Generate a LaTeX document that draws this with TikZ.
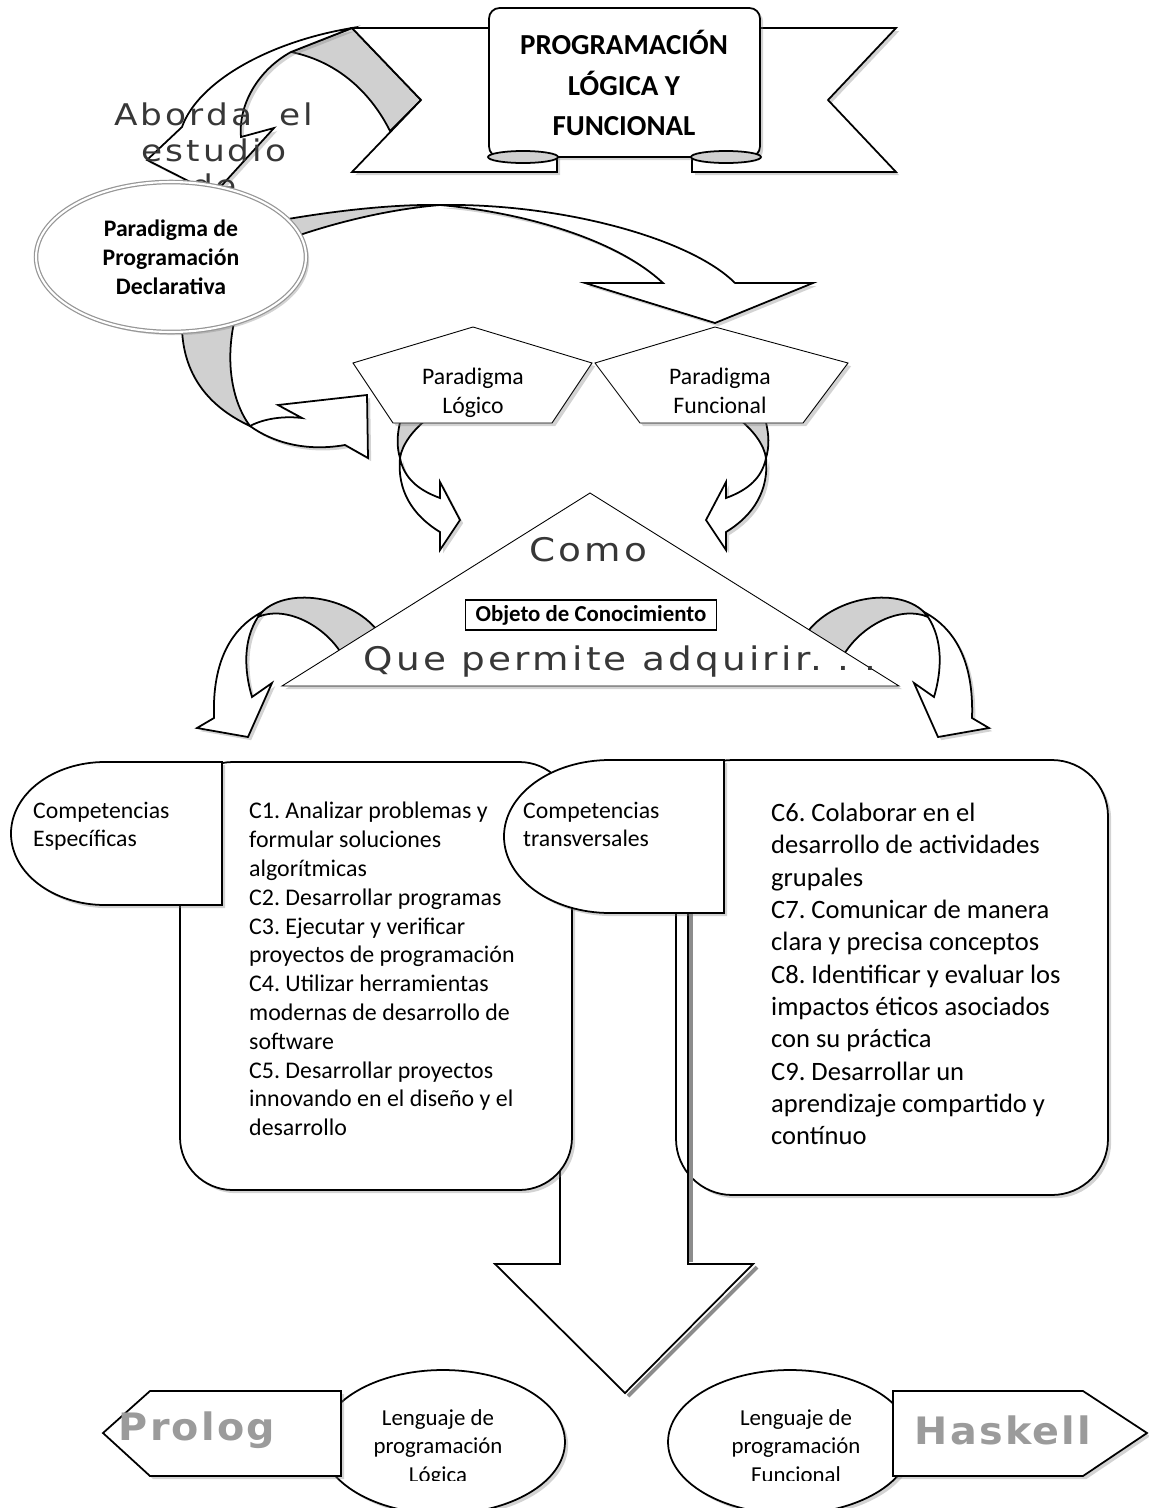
\documentclass[tikz,border=0pt]{standalone}
\usepackage{fontspec}
\setmainfont{Carlito}
\newfontfamily\artefont[FakeStretch=1.15, LetterSpace=10]{DejaVu Sans}
\newfontfamily\marcafont[FakeStretch=1.05, LetterSpace=6]{DejaVu Sans}
\usepackage{tikz}
\usetikzlibrary{shapes.geometric, shadows}
\definecolor{pliegue}{RGB}{208,208,208}
\definecolor{textoarte}{RGB}{55,55,55}
\definecolor{textoclaro}{RGB}{155,155,155}
\definecolor{bordeelipse}{RGB}{150,150,150}
\frenchspacing

\begin{document}
\begin{tikzpicture}[x=0.02cm, y=-0.02cm,
  borde/.style={draw=black, line width=1pt, fill=white},
  fino/.style={draw=black, line width=0.5pt, fill=white},
  dorso/.style={draw=black, line width=1pt, fill=pliegue},
  sombra/.style={drop shadow={shadow xshift=1.8pt, shadow yshift=-1.8pt, opacity=0.35}},
  texto/.style={font=\fontsize{13.5}{16.4}\selectfont, align=center},
  arte/.style={font=\artefont\fontsize{17}{20.4}\selectfont, text=textoarte, align=center},
  marca/.style={font=\marcafont\bfseries\fontsize{21.5}{23}\selectfont, text=textoclaro}]

  \useasboundingbox (0,0) rectangle (1149,1508);

  % flecha curva hacia el titulo
  \draw[dorso] (291,52) .. controls (340,62) and (372,95) .. (390,131)
    -- (421,100) -- (352,28) -- cycle;
  \draw[borde, sombra] (352,28) .. controls (268,42) and (198,82) .. (182,127)
    -- (147,160) -- (214,194) -- (274,128) -- (241,137)
    .. controls (238,105) and (258,70) .. (291,52) -- cycle;

  % cinta del titulo
  \draw[borde, sombra] (352,28) -- (557,28) -- (557,172) -- (352,172) -- (421,100) -- cycle;
  \draw[borde, sombra] (896,28) -- (692,28) -- (692,172) -- (896,172) -- (828,100) -- cycle;
  \draw[borde, sombra, rounded corners=6pt] (489,157) -- (489,8) -- (760,8) -- (760,157) -- cycle;
  \draw[dorso] (523,157) ellipse [x radius=35, y radius=6];
  \draw[dorso] (726,157) ellipse [x radius=35, y radius=6];
  \node[font=\bfseries\fontsize{16.5}{23.2}\selectfont, align=center] (titulo) at (624,83)
    {PROGRAMACIÓN\\LÓGICA Y\\FUNCIONAL};

  \node[arte] (aborda) at (214,150) {Aborda\ \ el\\estudio\\de};

  % flechas desde el paradigma declarativo
  \draw[dorso] (250,226) .. controls (320,212) and (390,204) .. (440,205)
    .. controls (380,210) and (310,228) .. (250,254) -- cycle;
  \draw[borde, sombra] (440,205) .. controls (560,203) and (690,238) .. (735,283)
    -- (813,283) -- (715,323) -- (585,283) -- (663,283)
    .. controls (615,238) and (520,212) .. (440,205) -- cycle;
  \draw[dorso] (182,318) .. controls (180,370) and (205,405) .. (250,426)
    .. controls (232,402) and (224,360) .. (236,314) -- cycle;
  \draw[borde, sombra] (250,426) .. controls (265,418) and (285,416) .. (302,418)
    -- (278,405) -- (367,395) -- (368,458) -- (345,445)
    .. controls (305,452) and (272,442) .. (250,426) -- cycle;

  \node[ellipse, draw=bordeelipse, line width=0.7pt, double=white, double distance=1.2pt,
    fill=white, sombra, minimum width=5.4cm, minimum height=3cm, inner sep=0pt,
    font=\bfseries\fontsize{13.5}{16.4}\selectfont, align=center] (declarativa) at (171,257)
    {Paradigma de\\Programación\\Declarativa};

  % flechas de los paradigmas
  \draw[dorso] (402,415) .. controls (396,435) and (397,448) .. (400,458)
    .. controls (402,445) and (412,430) .. (432,415) -- cycle;
  \draw[borde, sombra] (400,458) .. controls (397,490) and (412,515) .. (440,532)
    -- (440,550) -- (460,520) -- (440,482) -- (440,498)
    .. controls (418,490) and (404,478) .. (400,458) -- cycle;
  \draw[dorso] (764,415) .. controls (770,435) and (769,448) .. (766,458)
    .. controls (764,445) and (754,430) .. (734,415) -- cycle;
  \draw[borde, sombra] (766,458) .. controls (769,490) and (754,515) .. (726,532)
    -- (726,550) -- (706,520) -- (726,482) -- (726,498)
    .. controls (748,490) and (762,478) .. (766,458) -- cycle;

  \draw[fino, sombra] (473,327) -- (592,363) -- (552,423) -- (393,423) -- (353,363) -- cycle;
  \draw[fino, sombra] (715,327) -- (848,363) -- (803,423) -- (640,423) -- (595,363) -- cycle;
  \node[texto] (logico) at (473,393) {Paradigma\\Lógico};
  \node[texto] (funcional) at (720,391) {Paradigma\\Funcional};

  % flechas del objeto de conocimiento
  \draw[dorso] (380,634) .. controls (355,598) and (290,585) .. (262,612) -- (258,617)
    .. controls (285,605) and (325,625) .. (343,656) -- cycle;
  \draw[borde, sombra] (262,612) .. controls (232,628) and (212,660) .. (214,718)
    -- (197,728) -- (248,737) -- (272,683) -- (252,697)
    .. controls (244,670) and (243,640) .. (258,617) -- cycle;
  \draw[dorso] (806,634) .. controls (831,598) and (896,585) .. (924,612) -- (928,617)
    .. controls (901,605) and (861,625) .. (843,656) -- cycle;
  \draw[borde, sombra] (924,612) .. controls (954,628) and (974,660) .. (972,718)
    -- (989,728) -- (938,737) -- (914,683) -- (934,697)
    .. controls (942,670) and (943,640) .. (928,617) -- cycle;

  \draw[fino, sombra] (590,493) -- (899,686) -- (282,686) -- cycle;
  \node[arte, font=\artefont\fontsize{18.5}{20}\selectfont] (como) at (588,550) {Como};
  \node[draw, line width=0.6pt, fill=white, minimum width=5.02cm, minimum height=0.6cm,
    inner sep=0pt, font=\bfseries\fontsize{13}{15}\selectfont] (objeto) at (591,615)
    {Objeto de Conocimiento};
  \node[arte, font=\artefont\fontsize{18.5}{20}\selectfont] (adquirir) at (620,662)
    {Que permite adquirir. . .};

  % competencias
  \draw[borde, sombra, rounded corners=32pt] (676,760) rectangle (1108,1195);
  \draw[black!45, line width=2pt] (691,914) -- (691,1262);
  \draw[black!45, line width=2.2pt] (757,1267) -- (628,1396);
  \draw[line width=1pt] (688,850) -- (688,1264) -- (753,1264) -- (625,1393)
    -- (495,1264) -- (560,1264) -- (560,850);
  \draw[borde, sombra, rounded corners=30pt] (180,762) rectangle (572,1190);
  \draw[borde, sombra] (222,762) -- (105,762)
    arc[start angle=270, end angle=90, x radius=94, y radius=71.5] -- (222,905) -- cycle;
  \draw[borde, sombra] (724,760) -- (610,760)
    arc[start angle=270, end angle=90, x radius=106, y radius=76.5] -- (724,913) -- cycle;

  \node[anchor=west, align=left, font=\fontsize{13.5}{16}\selectfont] (especificas) at (27,826)
    {Competencias\\Específicas};
  \node[anchor=west, align=left, font=\fontsize{13.5}{16}\selectfont] (transversales) at (517,824)
    {Competencias\\transversales};
  \node[anchor=west, align=left, font=\fontsize{13.6}{16.4}\selectfont] (listaesp) at (243,969)
    {C1. Analizar problemas y\\formular soluciones\\algorítmicas\\C2. Desarrollar programas\\
     C3. Ejecutar y verificar\\proyectos de programación\\C4. Utilizar herramientas\\
     modernas de desarrollo de\\software\\C5. Desarrollar proyectos\\
     innovando en el diseño y el\\desarrollo};
  \node[anchor=west, align=left, font=\fontsize{15.1}{18.4}\selectfont] (listatrans) at (765,974)
    {C6. Colaborar en el\\desarrollo de actividades\\grupales\\C7. Comunicar de manera\\
     clara y precisa conceptos\\C8. Identificar y evaluar los\\impactos éticos asociados\\
     con su práctica\\C9. Desarrollar un\\aprendizaje compartido y\\contínuo};

  % lenguajes
  \node[ellipse, borde, sombra, minimum width=4.88cm, minimum height=2.88cm] (lenglogica) at (443,1442) {};
  \node[ellipse, borde, sombra, minimum width=4.88cm, minimum height=2.88cm] (lengfuncional) at (790,1442) {};
  \begin{scope}
    \clip (300,1360) rectangle (950,1480);
    \node[texto, font=\fontsize{13}{16.4}\selectfont] (txtlogica) at (438,1448)
      {Lenguaje de\\programación\\Lógica};
    \node[texto, font=\fontsize{13}{16.4}\selectfont] (txtfuncional) at (796,1446)
      {Lenguaje de\\programación\\Funcional};
  \end{scope}
  \draw[borde, sombra] (103,1433) -- (150,1391) -- (341,1391) -- (341,1476) -- (150,1476) -- cycle;
  \draw[borde, sombra] (893,1391) -- (1083,1391) -- (1147,1433) -- (1083,1476) -- (893,1476) -- cycle;
  \node[marca] (prolog) at (197,1430) {Prolog};
  \node[marca] (haskell) at (1003,1430) {Haskell};
\end{tikzpicture}
\end{document}
